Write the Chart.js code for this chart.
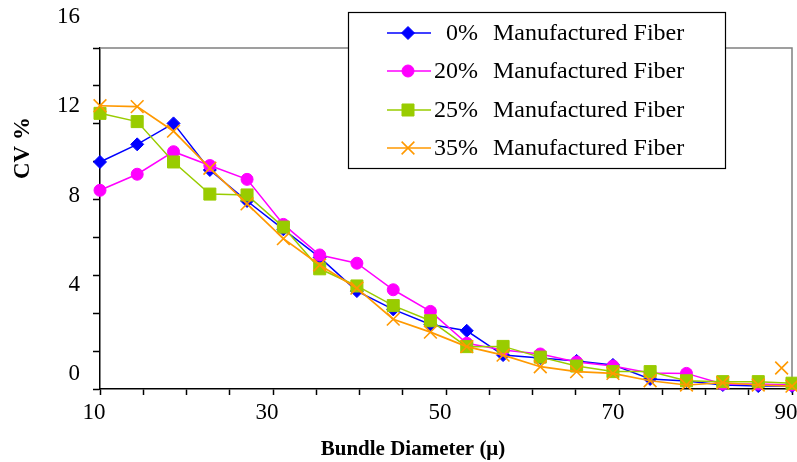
<!DOCTYPE html>
<html>
<head>
<meta charset="utf-8">
<script src="https://cdn.jsdelivr.net/npm/chart.js@4/dist/chart.umd.min.js"></script>
<style>
html,body{margin:0;padding:0;background:#fff;}
#wrap{width:797px;height:462px;position:relative;}
</style>
</head>
<body>
<div id="wrap"><canvas id="c" width="797" height="462"></canvas></div>
<script>
// ---- data ----
const diameters = [10, 14.3, 18.5, 22.7, 27.0, 31.2, 35.4, 39.7, 43.9, 48.2, 52.4, 56.6, 60.9, 65.1, 69.3, 73.6, 77.8, 82.0, 86.1, 90];
const cv0  = [10.18, 10.97, 11.91, 9.82, 8.43, 7.16, 5.90, 4.39, 3.57, 2.89, 2.61, 1.52, 1.39, 1.26, 1.08, 0.45, 0.36, 0.18, 0.13, 0.13];
const cv20 = [8.91, 9.63, 10.64, 10.02, 9.40, 7.38, 6.01, 5.64, 4.45, 3.48, 2.05, 1.75, 1.57, 1.21, 1.03, 0.72, 0.70, 0.22, 0.22, 0.18];
const cv25 = [12.36, 11.99, 10.18, 8.74, 8.70, 7.26, 5.39, 4.62, 3.74, 3.06, 1.90, 1.91, 1.43, 1.03, 0.78, 0.78, 0.37, 0.33, 0.33, 0.26];
const cv35 = [12.70, 12.66, 11.56, 9.90, 8.30, 6.74, 5.56, 4.52, 3.13, 2.55, 1.90, 1.52, 1.00, 0.78, 0.70, 0.37, 0.18, 0.28, 0.18, 0.13];
const strayX = [88.8];
const strayY = [0.94];
const seriesNames = ['0%', '20%', '25%', '35%'];
const seriesSuffix = 'Manufactured Fiber';
const xTickLabels = [10, 30, 50, 70, 90];
const yTickLabels = [0, 4, 8, 12, 16];
const xTitle = 'Bundle Diameter (\u03bc)';
const yTitle = 'CV %';

// ---- styling ----
const SERIF = '"Liberation Serif", "Times New Roman", serif';
const colors = ['#0000FF', '#FF00FF', '#99CC00', '#FF9900'];
const styles = [
  {pointStyle: 'rectRot', radius: 6.5, borderWidth: 1},
  {pointStyle: 'circle', radius: 6, borderWidth: 1},
  {pointStyle: 'rect', radius: 8.5, borderWidth: 1},
  {pointStyle: 'crossRot', radius: 9, borderWidth: 1.6}
];
const seriesValues = [cv0, cv20, cv25, cv35];

const toPts = (xs, ys) => xs.map((x, i) => ({x: x, y: ys[i]}));

const datasets = seriesValues.map((vals, i) => ({
  label: seriesNames[i] + '  ' + seriesSuffix,
  data: toPts(diameters, vals),
  yAxisID: 'y',
  borderColor: colors[i],
  backgroundColor: colors[i],
  borderWidth: i === 3 ? 1.7 : 1.5,
  pointStyle: styles[i].pointStyle,
  pointRadius: styles[i].radius,
  pointBorderWidth: styles[i].borderWidth,
  pointBackgroundColor: colors[i],
  pointBorderColor: colors[i],
  tension: 0,
  clip: false,
  order: 4 - i
}));
datasets.push({
  label: 'stray',
  data: toPts(strayX, strayY),
  yAxisID: 'y',
  showLine: false,
  borderColor: colors[3],
  backgroundColor: colors[3],
  pointStyle: 'crossRot',
  pointRadius: 9,
  pointBorderWidth: 1.6,
  clip: false
});

function drawMarker(ctx, st, color, x, y) {
  ctx.save();
  ctx.fillStyle = color;
  ctx.strokeStyle = color;
  ctx.lineWidth = st.borderWidth;
  if (Chart.helpers && Chart.helpers.drawPoint) {
    Chart.helpers.drawPoint(ctx, {pointStyle: st.pointStyle, radius: st.radius, borderWidth: st.borderWidth, rotation: 0}, x, y);
  }
  ctx.restore();
}

const framePlugin = {
  id: 'frame',
  beforeDatasetsDraw(chart) {
    const a = chart.chartArea, ctx = chart.ctx;
    ctx.save();
    ctx.strokeStyle = '#808080';
    ctx.lineWidth = 1.5;
    ctx.beginPath();
    ctx.moveTo(a.left, a.top);
    ctx.lineTo(a.right, a.top);
    ctx.lineTo(a.right, a.bottom);
    ctx.stroke();
    ctx.restore();
  },
  afterDraw(chart) {
    const ctx = chart.ctx;
    ctx.save();
    // axis titles
    ctx.fillStyle = '#000';
    ctx.font = 'bold 21px ' + SERIF;
    ctx.textAlign = 'center';
    ctx.textBaseline = 'alphabetic';
    ctx.fillText(xTitle, 413, 455);
    ctx.save();
    ctx.translate(29, 148);
    ctx.rotate(-Math.PI / 2);
    ctx.font = 'bold 23px ' + SERIF;
    ctx.fillText(yTitle, 0, 0);
    ctx.restore();
    // legend box
    const bx = 348, by = 12, bw = 377, bh = 156;
    ctx.fillStyle = '#fff';
    ctx.fillRect(bx, by, bw, bh);
    ctx.strokeStyle = '#000';
    ctx.lineWidth = 1.2;
    ctx.strokeRect(bx + 0.5, by + 0.5, bw, bh);
    const rows = [33, 71, 110, 148];
    for (let i = 0; i < 4; i++) {
      const y = rows[i];
      ctx.strokeStyle = colors[i];
      ctx.lineWidth = 1.5;
      ctx.beginPath();
      ctx.moveTo(387, y);
      ctx.lineTo(431, y);
      ctx.stroke();
      drawMarker(ctx, styles[i], colors[i], 408, y);
      ctx.fillStyle = '#000';
      ctx.font = '24px ' + SERIF;
      ctx.textBaseline = 'middle';
      ctx.textAlign = 'right';
      ctx.fillText(seriesNames[i], 478, y + 1);
      ctx.textAlign = 'left';
      ctx.fillText(seriesSuffix, 493, y + 1);
    }
    ctx.restore();
  }
};

new Chart(document.getElementById('c'), {
  type: 'line',
  data: {datasets: datasets},
  options: {
    responsive: false,
    animation: false,
    layout: {autoPadding: false, padding: {top: 48, right: 5, left: 0, bottom: 0}},
    plugins: {legend: {display: false}, tooltip: {enabled: false}},
    scales: {
      x: {
        type: 'linear', min: 10, max: 90,
        ticks: {
          stepSize: 5, autoSkip: false, maxRotation: 0, labelOffset: -6, padding: 4,
          color: '#000', font: {family: SERIF, size: 23},
          callback: v => xTickLabels.includes(v) ? String(v) : ''
        },
        grid: {drawOnChartArea: false, tickLength: 6, tickColor: '#000', tickWidth: 1.5},
        border: {color: '#000', width: 1.5},
        afterFit: s => { s.height = 73; s.paddingLeft = 0; s.paddingRight = 0; }
      },
      yMarks: {
        type: 'linear', position: 'left', weight: 0, min: 0, max: 9,
        ticks: {display: false, stepSize: 1},
        grid: {drawOnChartArea: false, tickLength: 7, tickColor: '#000', tickWidth: 1.5},
        border: {color: '#000', width: 1.5},
        afterFit: s => { s.width = 7; s.paddingTop = 0; s.paddingBottom = 0; }
      },
      y: {
        type: 'linear', position: 'left', weight: 1, min: 0, max: 15.29,
        afterBuildTicks: s => { s.ticks = yTickLabels.map(v => ({value: v})); },
        ticks: {autoSkip: false, labelOffset: -15, padding: 13, color: '#000', font: {family: SERIF, size: 23}},
        grid: {display: false, drawTicks: false},
        border: {display: false},
        afterFit: s => { s.width = 93; s.paddingTop = 0; s.paddingBottom = 0; }
      }
    }
  },
  plugins: [framePlugin]
});
</script>
</body>
</html>
